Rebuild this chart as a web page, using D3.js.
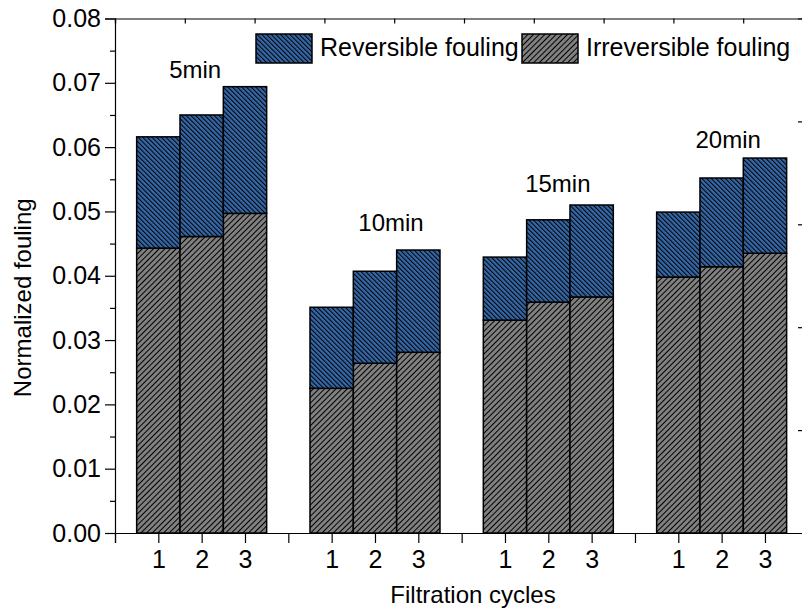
<!DOCTYPE html>
<html>
<head>
<meta charset="utf-8">
<script src="https://cdn.jsdelivr.net/npm/d3@7"></script>
<style>
  html, body { margin: 0; padding: 0; background: #fff; }
  svg { display: block; font-family: "Liberation Sans", Arial, sans-serif; }
</style>
</head>
<body>
<svg id="chart" width="802" height="610"></svg>
<script>
// Holding times and filtration cycles
const groups = ["5min", "10min", "15min", "20min"];
const cycles = ["1", "2", "3"];

// Normalized fouling per cycle, group by group
const irreversible = [
  0.0443, 0.0461, 0.0497,
  0.0225, 0.0264, 0.0281,
  0.0331, 0.0359, 0.0367,
  0.0398, 0.0414, 0.0435
];
const reversible = [
  0.0173, 0.0189, 0.0197,
  0.0126, 0.0143, 0.0159,
  0.0098, 0.0128, 0.0143,
  0.0101, 0.0138, 0.0148
];

const yTicks = [0, 0.01, 0.02, 0.03, 0.04, 0.05, 0.06, 0.07, 0.08];
const seriesNames = ["Reversible fouling", "Irreversible fouling"];

// Group annotation anchors (x in cycle slots, y in fouling units)
const groupLabelAnchor = [
  [1.85, 0.0707], [6.37, 0.0470], [10.22, 0.0530], [14.15, 0.0599]
];

const svg = d3.select("#chart");
const plotLeft = 115, plotTop = 18.5, plotBottom = 533, plotRight = 803;

// Bottom axis: one slot per cycle, empty slot between groups
const x = d3.scaleLinear().domain([0, 16]).range([plotLeft, 808.3]);
const xTop = d3.scaleLinear().domain([0, 10]).range([plotLeft, 813]);
const y = d3.scaleLinear().domain([0, 0.08]).range([plotBottom, plotTop]);
const yRight = d3.scaleLinear().domain([0, 5]).range([plotBottom, plotTop]);

const rows = [];
groups.forEach((g, gi) => cycles.forEach((c, ci) => {
  const i = gi * 3 + ci;
  rows.push({ slot: gi * 4 + ci + 1, cycle: c, irreversible: irreversible[i], reversible: reversible[i] });
}));
const stacked = d3.stack().keys(["irreversible", "reversible"])(rows);

// Hatch patterns
const defs = svg.append("defs");
function hatch(id, fill, angle, gap) {
  const p = defs.append("pattern")
    .attr("id", id)
    .attr("patternUnits", "userSpaceOnUse")
    .attr("width", gap).attr("height", gap)
    .attr("patternTransform", `rotate(${angle})`);
  p.append("rect").attr("width", gap).attr("height", gap).attr("fill", fill);
  p.append("line")
    .attr("x1", 0.5).attr("y1", 0).attr("x2", 0.5).attr("y2", gap)
    .attr("stroke", "#000").attr("stroke-width", 1);
}
hatch("hatchRev", "#3566a6", -45, 3.3);
hatch("hatchIrr", "#808080", 45, 4);
const fills = { irreversible: "url(#hatchIrr)", reversible: "url(#hatchRev)" };

// Bars
const barW = x(1) - x(0);
svg.append("g").selectAll("g")
  .data(stacked)
  .join("g")
  .attr("fill", d => fills[d.key])
  .selectAll("rect")
  .data(d => d)
  .join("rect")
  .attr("x", d => x(d.data.slot) - barW / 2)
  .attr("width", barW)
  .attr("y", d => y(d[1]))
  .attr("height", d => y(d[0]) - y(d[1]))
  .attr("stroke", "#000")
  .attr("stroke-width", 1.5);

// Axes
const fontSize = 25;
svg.append("g")
  .attr("transform", `translate(${plotLeft},0)`)
  .call(d3.axisLeft(y).tickValues(yTicks).tickFormat(d3.format(".2f")).tickSize(10).tickPadding(4));
svg.append("g")
  .attr("transform", `translate(${plotLeft},0)`)
  .call(d3.axisLeft(y).tickValues(d3.range(0.005, 0.08, 0.01)).tickFormat("").tickSize(5))
  .call(g => g.select(".domain").remove());

svg.append("g")
  .attr("transform", `translate(0,${plotBottom})`)
  .call(d3.axisBottom(x).tickValues(d3.range(0, 16))
    .tickFormat(d => d % 4 === 0 ? "" : cycles[(d % 4) - 1])
    .tickSize(10).tickPadding(7));

svg.append("g")
  .attr("transform", `translate(0,${plotTop})`)
  .call(d3.axisTop(xTop).tickValues(d3.range(0, 10)).tickFormat("").tickSize(-5));

svg.append("g")
  .attr("transform", `translate(${plotRight},0)`)
  .call(d3.axisRight(yRight).tickValues([1, 2, 3, 4]).tickFormat("").tickSize(-5));

svg.selectAll(".domain, .tick line").attr("stroke", "#000").attr("stroke-width", 1.2);
svg.selectAll(".tick text").attr("font-size", fontSize).attr("fill", "#000")
  .attr("font-family", "'Liberation Sans', Arial, sans-serif");

// Axis titles
svg.append("text")
  .attr("x", 473).attr("y", 603)
  .attr("text-anchor", "middle").attr("font-size", 24)
  .text("Filtration cycles");
svg.append("text")
  .attr("transform", `translate(31,${(plotTop + plotBottom) / 2 + 22}) rotate(-90)`)
  .attr("text-anchor", "middle").attr("font-size", 24)
  .text("Normalized fouling");

// Group labels
svg.append("g").selectAll("text")
  .data(groups)
  .join("text")
  .attr("x", (d, i) => x(groupLabelAnchor[i][0]))
  .attr("y", (d, i) => y(groupLabelAnchor[i][1]))
  .attr("text-anchor", "middle")
  .attr("font-size", 24)
  .text(d => d);

// Legend
const legendX = [256, 522];
const lg = svg.append("g").selectAll("g")
  .data(seriesNames)
  .join("g")
  .attr("transform", (d, i) => `translate(${legendX[i]},34)`);
lg.append("rect")
  .attr("width", 56).attr("height", 29)
  .attr("fill", (d, i) => i === 0 ? fills.reversible : fills.irreversible)
  .attr("stroke", "#000").attr("stroke-width", 1.5);
lg.append("text")
  .attr("x", 64).attr("y", 22)
  .attr("font-size", fontSize)
  .text(d => d);
</script>
</body>
</html>
